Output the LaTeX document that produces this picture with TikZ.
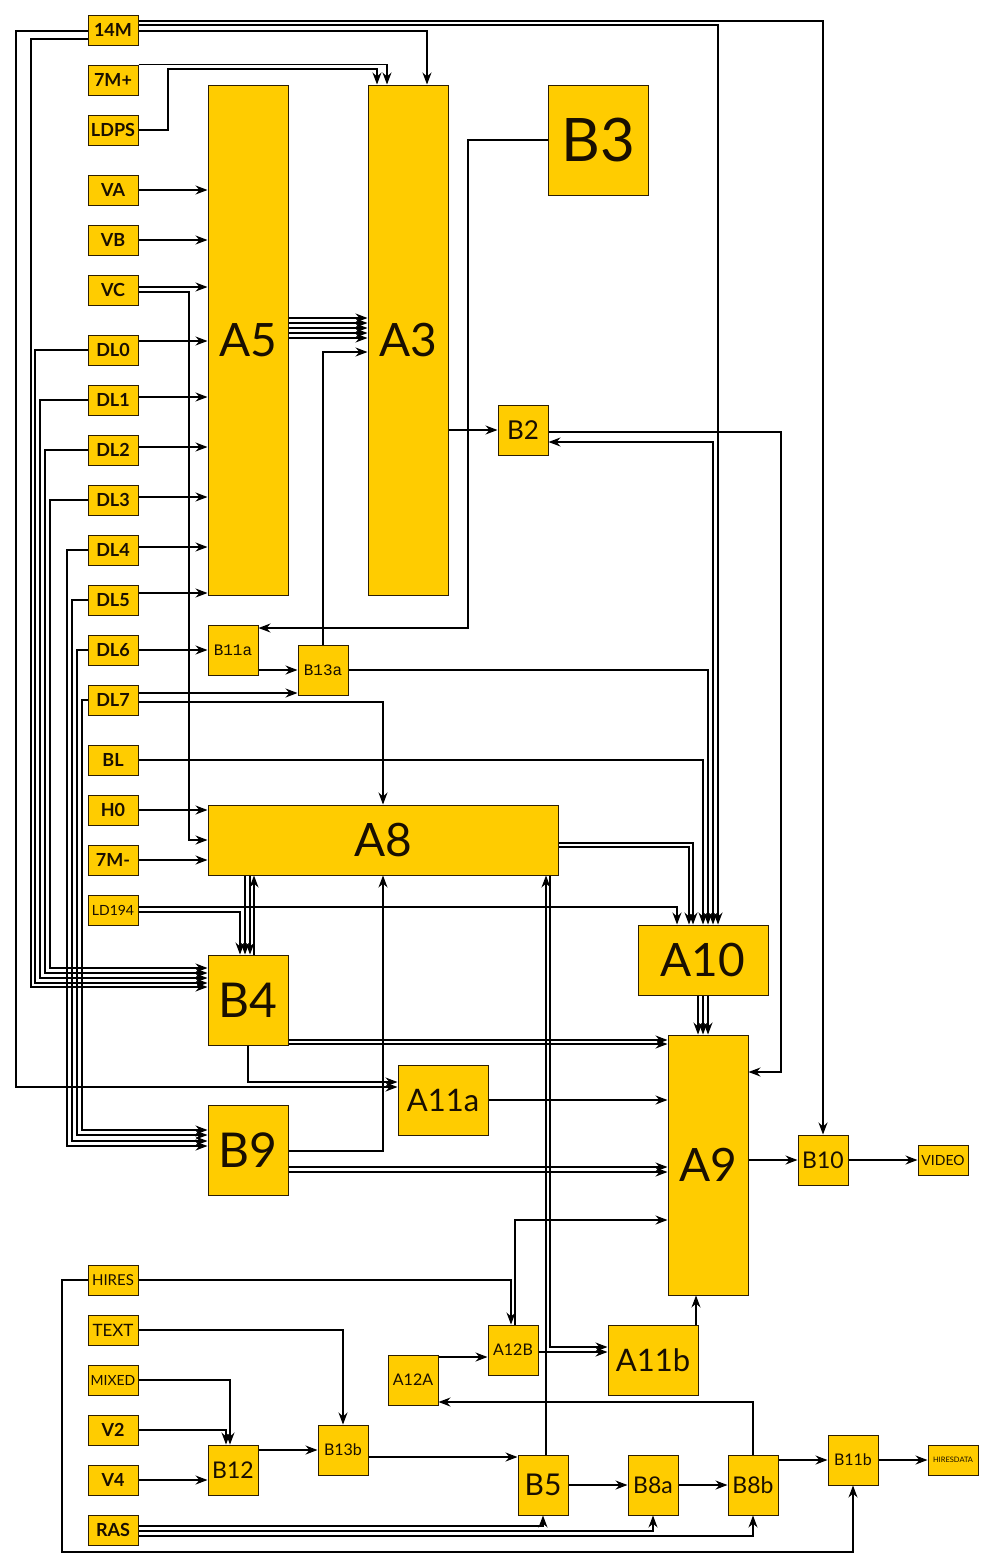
\documentclass[tikz,border=0pt]{standalone}
\usepackage{fontspec}
\setmainfont{Lato}
\newfontfamily\monofont{Liberation Mono}
\usetikzlibrary{arrows.meta,calc}
\definecolor{boxfill}{RGB}{255,204,0}
\definecolor{boxline}{RGB}{45,30,0}
\definecolor{txtcol}{RGB}{25,15,0}
\tikzset{
 blk/.style={draw=boxline, line width=1pt, fill=boxfill, inner sep=0pt, text=txtcol},
 sig/.style={blk, minimum width=50pt, minimum height=30pt, font=\bfseries\fontsize{18}{18}\selectfont},
 lsig/.style={blk, minimum width=50pt, minimum height=30pt, font=\fontsize{15}{15}\selectfont},
 wire/.style={line width=1.1pt, draw=black},
 arr/.style={wire, -{Stealth[length=12pt,width=9pt,inset=4pt]}},
 darr/.style={wire, {Stealth[length=12pt,width=9pt,inset=4pt]}-{Stealth[length=12pt,width=9pt,inset=4pt]}},
 big/.style={font=\fontsize{46}{46}\selectfont},
 mid/.style={font=\fontsize{31}{31}\selectfont},
 sml/.style={font=\fontsize{23}{23}\selectfont},
 lite/.style={font=\fontsize{16}{16}\selectfont},
 mono/.style={font=\monofont\fontsize{16}{16}\selectfont},
}
\begin{document}
\begin{tikzpicture}[x=1pt,y=-1pt]
\useasboundingbox (0,0) rectangle (993,1567);
\fill[white] (0,0) rectangle (993,1567);

% left signal column
\node[sig] (m14) at (113,30) {14M};
\node[sig] (m7p) at (113,80) {7M+};
\node[sig] (ldps) at (113,130) {LDPS};
\node[sig] (va) at (113,190) {VA};
\node[sig] (vb) at (113,240) {VB};
\node[sig] (vc) at (113,290) {VC};
\node[sig] (dl0) at (113,350) {DL0};
\node[sig] (dl1) at (113,400) {DL1};
\node[sig] (dl2) at (113,450) {DL2};
\node[sig] (dl3) at (113,500) {DL3};
\node[sig] (dl4) at (113,550) {DL4};
\node[sig] (dl5) at (113,600) {DL5};
\node[sig] (dl6) at (113,650) {DL6};
\node[sig] (dl7) at (113,700) {DL7};
\node[sig] (bl) at (113,760) {BL};
\node[sig] (h0) at (113,810) {H0};
\node[sig] (m7m) at (113,860) {7M-};
\node[lsig, font=\fontsize{14}{14}\selectfont] (ld194) at (113,910) {LD194};
\node[lsig] (hires) at (113,1280) {HIRES};
\node[lsig, font=\fontsize{17}{17}\selectfont] (txt) at (113,1330) {TEXT};
\node[lsig, font=\fontsize{14}{14}\selectfont] (mixed) at (113,1380) {MIXED};
\node[sig] (v2) at (113,1430) {V2};
\node[sig] (v4) at (113,1480) {V4};
\node[sig] (ras) at (113,1530) {RAS};

% main blocks
\node[blk, big, minimum width=80pt, minimum height=510pt] (a5) at (248,340) {A5};
\node[blk, big, minimum width=80pt, minimum height=510pt] (a3) at (408,340) {A3};
\node[blk, font=\fontsize{60}{60}\selectfont, minimum width=100pt, minimum height=110pt] (b3) at (598,140) {B3};
\node[blk, font=\fontsize{26}{26}\selectfont, minimum width=50pt, minimum height=50pt] (b2) at (523,430) {B2};
\node[blk, mono, minimum width=50pt, minimum height=50pt] (b11a) at (233,650) {B11a};
\node[blk, mono, minimum width=50pt, minimum height=50pt] (b13a) at (323,670) {B13a};
\node[blk, big, minimum width=350pt, minimum height=70pt] (a8) at (383,840) {A8};
\node[blk, big, minimum width=130pt, minimum height=70pt] (a10) at (703,960) {A10};
\node[blk, font=\fontsize{48}{48}\selectfont, minimum width=80pt, minimum height=90pt] (b4) at (248,1000) {B4};
\node[blk, mid, minimum width=90pt, minimum height=70pt] (a11a) at (443,1100) {A11a};
\node[blk, font=\fontsize{48}{48}\selectfont, minimum width=80pt, minimum height=90pt] (b9) at (248,1150) {B9};
\node[blk, big, minimum width=80pt, minimum height=260pt] (a9) at (708,1165) {A9};
\node[blk, sml, minimum width=50pt, minimum height=50pt] (b10) at (823,1160) {B10};
\node[lsig, font=\fontsize{14}{14}\selectfont] (video) at (943,1160) {VIDEO};
\node[blk, lite, minimum width=50pt, minimum height=50pt] (a12a) at (413,1380) {A12A};
\node[blk, lite, minimum width=50pt, minimum height=50pt] (a12b) at (513,1350) {A12B};
\node[blk, mid, minimum width=90pt, minimum height=70pt] (a11b) at (653,1360) {A11b};
\node[blk, sml, minimum width=50pt, minimum height=50pt] (b12) at (233,1470) {B12};
\node[blk, lite, minimum width=50pt, minimum height=50pt] (b13b) at (343,1450) {B13b};
\node[blk, font=\fontsize{30}{30}\selectfont, minimum width=50pt, minimum height=60pt] (b5) at (543,1485) {B5};
\node[blk, sml, minimum width=50pt, minimum height=60pt] (b8a) at (653,1485) {B8a};
\node[blk, sml, minimum width=50pt, minimum height=60pt] (b8b) at (753,1485) {B8b};
\node[blk, lite, minimum width=50pt, minimum height=50pt] (b11b) at (853,1460) {B11b};
\node[blk, font=\fontsize{7.5}{7.5}\selectfont, minimum width=50pt, minimum height=30pt] (hiresdata) at (953,1460) {HIRESDATA};

% 14M
\draw[arr] (m14.east |- 0,21) -| (b10.north);
\draw[arr] (m14.east |- 0,25) -| (a10.north -| 718,0);
\draw[arr] (m14.east |- 0,31) -| (a3.north -| 427,0);
\draw[arr] (m14.west |- 0,31) -| (16,1087) -- (a11a.west |- 0,1087);
\draw[arr] (m14.west |- 0,39) -| (31,987) -- (b4.west |- 0,987);
% 7M+, LDPS
\draw[arr] (m7p.north east) -| (a3.north -| 387,0);
\draw[arr] (ldps.east) -| (168,69) -| (a3.north -| 377,0);
% V inputs
\draw[arr] (va.east) -- (va.east -| a5.west);
\draw[arr] (vb.east) -- (vb.east -| a5.west);
\draw[arr] (vc.east |- 0,287) -- (a5.west |- 0,287);
\draw[arr] (vc.east |- 0,292) -| (189,840) -- (a8.west |- 0,840);
% DL to A5
\foreach \n/\y in {dl0/341, dl1/397, dl2/447, dl3/497, dl4/547, dl5/593}
  \draw[arr] (\n.east |- 0,\y) -- (a5.west |- 0,\y);
% DL to B4 / B9
\foreach \n/\x/\y in {dl0/35/983, dl1/40/978, dl2/45/973, dl3/50/968}
  \draw[arr] (\n.west) -| (\x,\y) -- (b4.west |- 0,\y);
\foreach \n/\x/\y in {dl4/67/1146, dl5/72/1141, dl6/77/1135, dl7/82/1130}
  \draw[arr] (\n.west) -| (\x,\y) -- (b9.west |- 0,\y);
\draw[arr] (dl6.east) -- (b11a.west);
\draw[arr] (dl7.east |- 0,693) -- (b13a.west |- 0,693);
\draw[arr] (dl7.east |- 0,702) -| (a8.north);
% A5 -> A3
\foreach \y in {318,323,328,333,338}
  \draw[arr] (a5.east |- 0,\y) -- (a3.west |- 0,\y);
\draw[arr] (b13a.north) |- (a3.west |- 0,352);
\draw[arr] (b3.west) -| (468,628) -- (b11a.east |- 0,628);
\draw[arr] (a3.east |- b2.west) -- (b2.west);
\draw[arr] (b2.east |- 0,432) -| (781,1072) -- (a9.east |- 0,1072);
\draw[darr] (a10.north -| 713,0) |- (b2.east |- 0,442);
\draw[arr] (b11a.east |- b13a.west) -- (b13a.west);
\draw[arr] (b13a.east) -| (a10.north -| 708,0);
\draw[arr] (bl.east) -| (a10.north -| 703,0);
\draw[arr] (h0.east) -- (h0.east -| a8.west);
\draw[arr] (m7m.east) -- (m7m.east -| a8.west);
\draw[arr] (ld194.east |- 0,907) -| (a10.north -| 677,0);
\draw[arr] (ld194.east |- 0,912) -| (b4.north -| 240,0);
\draw[arr] (a8.south -| 245,0) -- (b4.north -| 245,0);
\draw[arr] (a8.south -| 250,0) -- (b4.north -| 250,0);
\draw[arr] (b4.north -| 254,0) -- (a8.south -| 254,0);
\draw[arr] (a8.east |- 0,843) -| (a10.north -| 693,0);
\draw[arr] (a8.east |- 0,847) -| (a10.north -| 689,0);
\foreach \x in {698,703,708}
  \draw[arr] (a10.south -| \x,0) -- (a9.north -| \x,0);
\foreach \y in {1040,1044}
  \draw[arr] (b4.east |- 0,\y) -- (a9.west |- 0,\y);
\draw[arr] (b4.south) |- (a11a.west |- 0,1082);
\draw[arr] (a11a.east) -- (a11a.east -| a9.west);
\draw[arr] (b9.east |- 0,1151) -| (a8.south);
\foreach \y in {1167,1172}
  \draw[arr] (b9.east |- 0,\y) -- (a9.west |- 0,\y);
\draw[arr] (a9.east |- b10.west) -- (b10.west);
\draw[arr] (b10.east) -- (video.west);
% bottom part
\draw[arr] (a12b.north -| 515,0) |- (a9.west |- 0,1220);
\draw[arr] (hires.east) -| (a12b.north -| 511,0);
\draw[arr] (hires.west) -| (62,1552) -| (b11b.south);
\draw[arr] (a8.south -| 550,0) |- (a11b.west |- 0,1347);
\draw[arr] (b5.north -| 546,0) -- (a8.south -| 546,0);
\draw[arr] (a12a.east |- 0,1357) -- (a12b.west |- 0,1357);
\draw[arr] (a12b.east |- 0,1352) -- (a11b.west |- 0,1352);
\draw[arr] (a11b.north -| 696,0) -- (a9.south -| 696,0);
\draw[arr] (b8b.north) |- (a12a.east |- 0,1402);
\draw[arr] (txt.east) -| (b13b.north);
\draw[arr] (mixed.east) -| (b12.north -| 230,0);
\draw[arr] (v2.east) -| (b12.north -| 226,0);
\draw[arr] (v4.east) -- (v4.east -| b12.west);
\draw[arr] (b12.east |- b13b.west) -- (b13b.west);
\draw[arr] (b13b.east |- 0,1457) -- (b5.west |- 0,1457);
\draw[arr] (b5.east) -- (b8a.west);
\draw[arr] (b8a.east) -- (b8b.west);
\draw[arr] (b8b.east |- b11b.west) -- (b11b.west);
\draw[arr] (b11b.east) -- (hiresdata.west);
\draw[arr] (ras.east |- 0,1526) -| (b5.south);
\draw[arr] (ras.east |- 0,1531) -| (b8a.south);
\draw[arr] (ras.east |- 0,1536) -| (b8b.south);
\end{tikzpicture}
\end{document}
